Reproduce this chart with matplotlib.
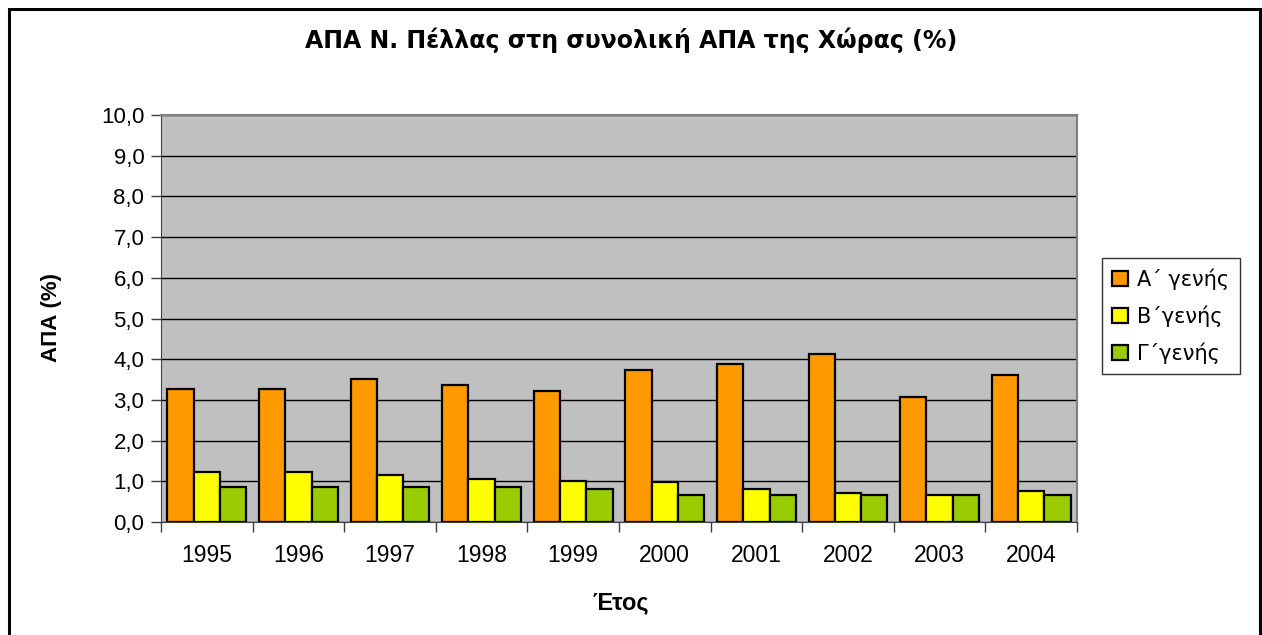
import matplotlib
matplotlib.use("Agg")
import numpy as np
import matplotlib.pyplot as plt
from matplotlib.patches import Rectangle
from matplotlib.ticker import FuncFormatter, FixedLocator

years = ["1995", "1996", "1997", "1998", "1999", "2000", "2001", "2002", "2003", "2004"]
gen_a = [3.28, 3.28, 3.52, 3.37, 3.23, 3.74, 3.89, 4.14, 3.08, 3.62]
gen_b = [1.23, 1.23, 1.16, 1.06, 1.01, 0.98, 0.81, 0.71, 0.66, 0.76]
gen_c = [0.86, 0.86, 0.86, 0.86, 0.81, 0.66, 0.66, 0.66, 0.66, 0.66]
labels = ["Α΄ γενής", "Β΄γενής", "Γ΄γενής"]
colors = ["#FF9900", "#FFFF00", "#99CC00"]

plt.rcParams['font.family'] = ['Liberation Sans', 'DejaVu Sans']
wide = ['DejaVu Sans', 'Liberation Sans']

fig = plt.figure(figsize=(12.62, 6.35), dpi=100)
fig.patches.append(Rectangle((9 / 1262, -0.05), 1251 / 1262, 1 - 9 / 635 + 0.05,
                             transform=fig.transFigure, fill=False,
                             edgecolor="black", linewidth=2.2))

ax = fig.add_axes([161 / 1262, 1 - 522 / 635, 916 / 1262, 407 / 635])
ax.set_facecolor("#C0C0C0")

x = np.arange(len(years))
w = 0.287
handles = []
for i, (vals, lab, col) in enumerate(zip([gen_a, gen_b, gen_c], labels, colors)):
    b = ax.bar(x + (i - 1) * w, vals, width=w, color=col, edgecolor="black",
               linewidth=1.6, label=lab, zorder=3)
    handles.append(b)

ax.set_xlim(-0.5, len(years) - 0.5)
ax.set_ylim(0, 10)
ax.set_yticks(np.arange(0, 10.1, 1))
ax.yaxis.set_major_formatter(FuncFormatter(lambda v, p: f"{v:.1f}".replace(".", ",")))
ax.grid(axis="y", color="black", linewidth=1.0, zorder=1)
ax.set_axisbelow(True)

ax.set_xticks(x)
ax.set_xticklabels(years)
ax.xaxis.set_minor_locator(FixedLocator(np.arange(-0.5, len(years), 1)))
ax.tick_params(axis="x", which="major", length=0, pad=16, labelsize=16.5)
ax.tick_params(axis="x", which="minor", length=7, color="#404040", width=1)
ax.tick_params(axis="y", length=7, color="#404040", width=1, labelsize=16, pad=5)

for s in ["top", "right"]:
    ax.spines[s].set_color("#808080")
    ax.spines[s].set_linewidth(1.5)
ax.spines["left"].set_color("#404040")
ax.spines["bottom"].set_color("#404040")

fig.text(631 / 1262, 1 - 40 / 635, "ΑΠΑ Ν. Πέλλας στη συνολική ΑΠΑ της Χώρας (%)",
         ha="center", va="center", fontsize=17, fontweight="bold", family=wide)
fig.text(621 / 1262, 1 - 603 / 635, "Έτος", ha="center", va="center",
         fontsize=17, fontweight="bold")
fig.text(52 / 1262, 1 - 318 / 635, "ΑΠΑ (%)", ha="center", va="center",
         rotation=90, fontsize=16, fontweight="bold")

leg = fig.legend(handles=handles, labels=labels, loc="center left",
                 bbox_to_anchor=(1102 / 1262, 1 - 316 / 635),
                 prop={"family": wide, "size": 15},
                 frameon=True, fancybox=False, edgecolor="black",
                 handlelength=0.75, handleheight=0.75, handletextpad=0.45,
                 labelspacing=0.75, borderpad=0.5, borderaxespad=0)
leg.get_frame().set_linewidth(1.0)

fig.savefig("out.png", dpi=100, facecolor="white")
